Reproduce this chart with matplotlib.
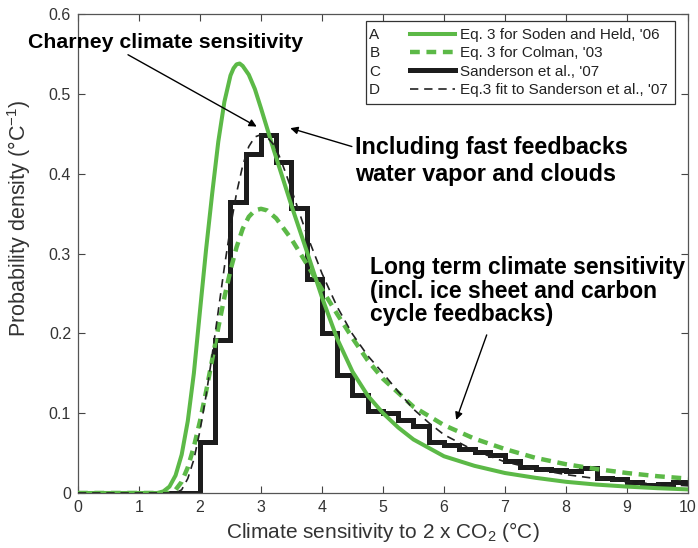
import matplotlib
matplotlib.use('Agg')
import matplotlib.pyplot as plt
from matplotlib.lines import Line2D
from matplotlib.patches import Rectangle

plt.rcParams['font.family'] = ['Liberation Sans', 'DejaVu Sans']
plt.rcParams['mathtext.fontset'] = 'custom'
plt.rcParams['mathtext.rm'] = 'Liberation Sans'
plt.rcParams['mathtext.it'] = 'Liberation Sans:italic'
plt.rcParams['mathtext.bf'] = 'Liberation Sans:bold'

# A: Eq. 3 for Soden and Held, '06
a_x = [0.0, 1.3, 1.4, 1.5, 1.6, 1.7, 1.8, 1.9, 2.0, 2.1, 2.2, 2.3, 2.4, 2.5, 2.55, 2.6,
       2.65, 2.7, 2.8, 2.9, 3.0, 3.1, 3.2, 3.3, 3.4, 3.5, 3.75, 4.0, 4.25, 4.5, 4.75,
       5.0, 5.25, 5.5, 6.0, 6.5, 7.0, 7.5, 8.0, 8.5, 9.0, 9.5, 10.0]
a_y = [0.0, 0.0, 0.002, 0.008, 0.022, 0.048, 0.09, 0.15, 0.228, 0.305, 0.375, 0.44,
       0.49, 0.523, 0.532, 0.537, 0.538, 0.535, 0.524, 0.506, 0.482, 0.457, 0.432,
       0.408, 0.384, 0.36, 0.303, 0.245, 0.193, 0.152, 0.122, 0.1, 0.082, 0.067,
       0.046, 0.034, 0.025, 0.019, 0.014, 0.0105, 0.008, 0.006, 0.0045]

# B: Eq. 3 for Colman, '03
b_x = [0.0, 1.5, 1.6, 1.7, 1.8, 1.9, 2.0, 2.1, 2.2, 2.3, 2.4, 2.5, 2.6, 2.7, 2.8, 2.9,
       3.0, 3.1, 3.25, 3.5, 3.75, 4.0, 4.25, 4.5, 4.75, 5.0, 5.5, 6.0, 6.5, 7.0, 7.5,
       8.0, 8.5, 9.0, 9.5, 10.0]
b_y = [0.0, 0.0, 0.004, 0.014, 0.032, 0.058, 0.09, 0.127, 0.167, 0.207, 0.245, 0.279,
       0.308, 0.331, 0.346, 0.354, 0.356, 0.354, 0.344, 0.318, 0.287, 0.255, 0.224,
       0.194, 0.166, 0.143, 0.108, 0.085, 0.068, 0.055, 0.044, 0.036, 0.03, 0.025,
       0.021, 0.018]

# C: Sanderson et al., '07 histogram (bin edges and heights)
c_edges = [0.0, 2.0, 2.25, 2.5, 2.75, 3.0, 3.25, 3.5, 3.75, 4.0, 4.25, 4.5, 4.75, 5.0,
           5.25, 5.5, 5.75, 6.0, 6.25, 6.5, 6.75, 7.0, 7.25, 7.5, 7.75, 8.0, 8.25, 8.5,
           8.75, 9.0, 9.25, 9.5, 9.75, 10.0]
c_vals = [0.0, 0.064, 0.192, 0.364, 0.425, 0.449, 0.415, 0.357, 0.268, 0.2, 0.148,
          0.123, 0.103, 0.1, 0.091, 0.084, 0.064, 0.06, 0.055, 0.051, 0.047, 0.04,
          0.032, 0.03, 0.029, 0.027, 0.031, 0.019, 0.017, 0.014, 0.01, 0.011, 0.014]

# D: Eq.3 fit to Sanderson et al., '07
d_x = [0.0, 1.6, 1.7, 1.8, 1.9, 2.0, 2.1, 2.2, 2.3, 2.4, 2.5, 2.6, 2.7, 2.8, 2.9, 3.0,
       3.1, 3.2, 3.3, 3.4, 3.5, 3.75, 4.0, 4.25, 4.5, 4.75, 5.0, 5.25, 5.5, 5.75, 6.0,
       6.5, 7.0, 7.5, 8.0, 8.5, 9.0, 9.5, 10.0]
d_y = [0.0, 0.0, 0.004, 0.018, 0.042, 0.078, 0.122, 0.173, 0.228, 0.283, 0.333, 0.376,
       0.41, 0.434, 0.446, 0.449, 0.446, 0.437, 0.422, 0.402, 0.38, 0.324, 0.275,
       0.233, 0.199, 0.172, 0.15, 0.127, 0.105, 0.088, 0.073, 0.053, 0.039, 0.03,
       0.023, 0.018, 0.014, 0.011, 0.009]

letters = ['A', 'B', 'C', 'D']
labels = ["Eq. 3 for Soden and Held, '06", "Eq. 3 for Colman, '03",
          "Sanderson et al., '07", "Eq.3 fit to Sanderson et al., '07"]

green = '#5cb947'
ink = '#1c1c1c'

fig = plt.figure(figsize=(6.98, 5.48), dpi=100)
ax = fig.add_axes([0.1117, 0.1004, 0.874, 0.874])

ax.stairs(c_vals, c_edges, baseline=None, color=ink, lw=3.6, zorder=2)
ax.plot(a_x, a_y, color=green, lw=2.9, zorder=3, solid_joinstyle='round')
ax.plot(b_x, b_y, color=green, lw=3.2, ls=(0, (2.2, 1.5)), zorder=3)
ax.plot(d_x, d_y, color='#222222', lw=1.2, ls=(0, (5, 3.5)), zorder=4)

ax.set_xlim(0, 10)
ax.set_ylim(0, 0.6)
ax.set_xticks(range(0, 11))
ax.set_yticks([0, 0.1, 0.2, 0.3, 0.4, 0.5, 0.6])
ax.set_yticklabels(['0', '0.1', '0.2', '0.3', '0.4', '0.5', '0.6'])
ax.tick_params(direction='in', top=True, right=True, length=5, width=0.8,
               labelsize=11.5, colors='#444444', labelcolor='#333333', pad=5)
for s in ax.spines.values():
    s.set_color('#555555')
    s.set_linewidth(0.9)

ax.set_xlabel('Climate sensitivity to 2 x CO$_2$ (°C)', fontsize=15, color='#333333', labelpad=4)
ax.set_ylabel('Probability density (°C$^{-1}$)', fontsize=15.5, color='#333333')
ax.yaxis.set_label_coords(-0.074, 0.573)

# legend, with letters in front of the handles
handles = [Line2D([], [], color=green, lw=2.9),
           Line2D([], [], color=green, lw=3.2, ls=(0, (2.2, 1.5))),
           Line2D([], [], color=ink, lw=3.6),
           Line2D([], [], color='#222222', lw=1.2, ls=(0, (5, 3.5)))]
leg = ax.legend(handles, labels, loc='upper right', bbox_to_anchor=(0.978, 0.985),
                frameon=False, fontsize=11, handlelength=3.0, handletextpad=0.3,
                labelspacing=0.28, borderpad=0.45, borderaxespad=0)
for t in leg.get_texts():
    t.set_color('#222222')
fig.canvas.draw()
inv = ax.transAxes.inverted()
bb = leg.get_window_extent().transformed(inv)
for t, letter in zip(leg.get_texts(), letters):
    tb = t.get_window_extent().transformed(inv)
    ax.text(0.486, (tb.y0 + tb.y1) / 2, letter, transform=ax.transAxes,
            ha='center', va='center', fontsize=11, color='#222222')
box_x0 = 0.472
ax.add_patch(Rectangle((box_x0, bb.y0), bb.x1 - box_x0, bb.y1 - bb.y0,
                       transform=ax.transAxes, fill=False, lw=0.9, ec='#333333', zorder=5))

# annotations
arrow = dict(arrowstyle='-|>', color='black', lw=1.0, mutation_scale=11, shrinkA=0, shrinkB=0)
ax.text(-0.82, 0.564, 'Charney climate sensitivity', fontsize=15.3, fontweight='bold',
        ha='left', va='center')
ax.annotate('', xy=(2.93, 0.459), xytext=(0.82, 0.549), arrowprops=arrow)

ax.text(4.54, 0.416, 'Including fast feedbacks\nwater vapor and clouds', fontsize=16.8,
        fontweight='bold', ha='left', va='center', linespacing=1.25)
ax.annotate('', xy=(3.48, 0.457), xytext=(4.49, 0.434), arrowprops=arrow)

ax.text(4.79, 0.253, 'Long term climate sensitivity\n(incl. ice sheet and carbon\ncycle feedbacks)',
        fontsize=16.5, fontweight='bold', ha='left', va='center', linespacing=1.02)
ax.annotate('', xy=(6.2, 0.0915), xytext=(6.7, 0.198), arrowprops=arrow)

fig.savefig('out.png', dpi=100)
